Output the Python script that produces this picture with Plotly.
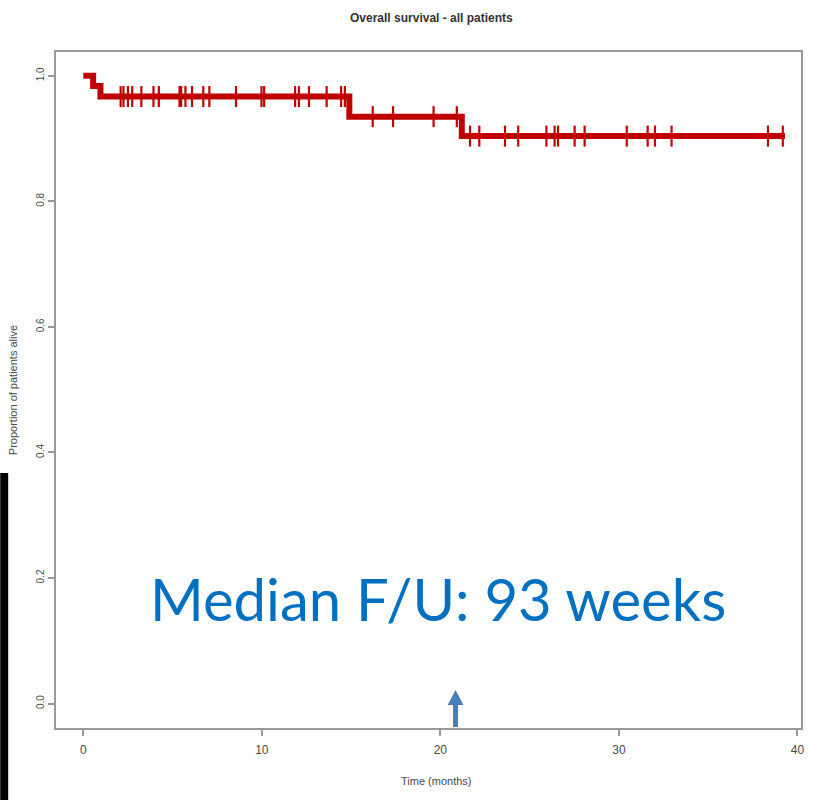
import plotly.graph_objects as go
import numpy as np

# Kaplan-Meier data (months)
event_times = [0.0, 0.55, 0.96, 14.9, 21.2]
survival = [1.0, 0.984, 0.967, 0.935, 0.904]
end_time = 39.3
censor_times = [2.09, 2.25, 2.5, 2.74, 3.25, 3.93, 4.23, 5.39, 5.48, 5.72, 6.09, 6.72, 7.06,
                8.55, 9.98, 10.13, 11.86, 12.08, 12.64, 13.63, 14.44, 14.65,
                16.21, 17.35, 19.62, 20.92,
                21.66, 22.18, 23.62, 24.36, 25.94, 26.4, 26.59, 27.52, 28.08,
                30.44, 31.61, 32.02, 32.95, 38.35, 39.18]
x_ticks = [0, 10, 20, 30, 40]
y_ticks = [0.0, 0.2, 0.4, 0.6, 0.8, 1.0]
y_tick_labels = ["0.0", "0.2", "0.4", "0.6", "0.8", "1.0"]
title_text = "Overall survival - all patients"
x_title = "Time (months)"
y_title = "Proportion of patients alive"
note_text = "Median F/U: 93 weeks"
median_fu_months = 20.85

RED = "#C00000"
AX = "#9a9a9a"
TXT = "#4a4a4a"
NARROW = "Liberation Sans Narrow, Liberation Sans, Arial"
SANS = "Liberation Sans, Arial"

step_x = event_times + [end_time]
step_y = survival + [survival[-1]]

def surv_at(t):
    idx = np.searchsorted(np.array(event_times), t, side="right") - 1
    return survival[idx]

censor_y = [surv_at(t) for t in censor_times]

fig = go.Figure()
fig.add_trace(go.Scatter(x=step_x, y=step_y, mode="lines", line=dict(color=RED, width=6, shape="hv"),
                         hoverinfo="skip", showlegend=False))
fig.add_trace(go.Scatter(x=censor_times, y=censor_y, mode="markers",
                         marker=dict(symbol="line-ns", size=15, line=dict(color=RED, width=2.2)),
                         showlegend=False))

L, R, T, B = 56, 11, 52, 72
W, H = 815, 800
pw, ph = W - L - R, H - T - B

def px_x(p):
    return (p - L) / pw

def px_y(p):
    return (H - B - p) / ph

fig.update_layout(
    width=W, height=H,
    margin=dict(l=L, r=R, t=T, b=B),
    paper_bgcolor="white", plot_bgcolor="white",
    font=dict(family=NARROW, color=TXT, size=10),
    xaxis=dict(range=[-1.53, 40.2], tickvals=x_ticks, ticks="outside", ticklen=6, tickwidth=1.5,
               tickcolor=AX, showline=True, linecolor=AX, linewidth=2, mirror=True,
               showgrid=False, zeroline=False, ticklabelstandoff=4,
               tickfont=dict(size=12, color=TXT, family=NARROW)),
    yaxis=dict(range=[-0.039, 1.038], tickvals=y_ticks, ticktext=y_tick_labels, tickangle=-90,
               ticks="outside", ticklen=6, tickwidth=1.5, tickcolor=AX, showline=True,
               linecolor=AX, linewidth=2, mirror=True, showgrid=False, zeroline=False,
               tickfont=dict(size=10, color=TXT, family=SANS)),
)

# titles
fig.add_annotation(text="<b>" + title_text + "</b>", xref="paper", yref="paper",
                   x=px_x(433), y=px_y(18), showarrow=False, xanchor="center", yanchor="middle",
                   font=dict(size=12, color="#333333", family=NARROW))
fig.add_annotation(text=x_title, xref="paper", yref="paper", x=px_x(438), y=px_y(781),
                   showarrow=False, xanchor="center", yanchor="middle",
                   font=dict(size=11, color=TXT, family=NARROW))
fig.add_annotation(text=y_title, xref="paper", yref="paper", x=px_x(13), y=px_y(390),
                   showarrow=False, xanchor="center", yanchor="middle", textangle=-90,
                   font=dict(size=11, color=TXT, family=SANS))

# big note
fig.add_annotation(text=note_text, xref="paper", yref="paper", x=px_x(440), y=px_y(598),
                   showarrow=False, xanchor="center", yanchor="middle",
                   font=dict(size=58, color="#0070C0", family="Lato, Open Sans, sans-serif"))

# arrow at median follow-up
xc = median_fu_months
sw, hw = 0.14, 0.44
yb, yh, yt = px_y(727), px_y(705), px_y(690)
path = (f"M {xc - sw} {yb} L {xc - sw} {yh} L {xc - hw} {yh} L {xc} {yt} "
        f"L {xc + hw} {yh} L {xc + sw} {yh} L {xc + sw} {yb} Z")
fig.add_shape(type="path", xref="x", yref="paper", path=path,
              fillcolor="#4A7EBB", line=dict(width=0))

# black bar on the left edge
fig.add_shape(type="rect", xref="paper", yref="paper", x0=px_x(0), x1=px_x(8),
              y0=px_y(800), y1=px_y(473), fillcolor="black", line=dict(width=0))

fig.write_html("out.html")
